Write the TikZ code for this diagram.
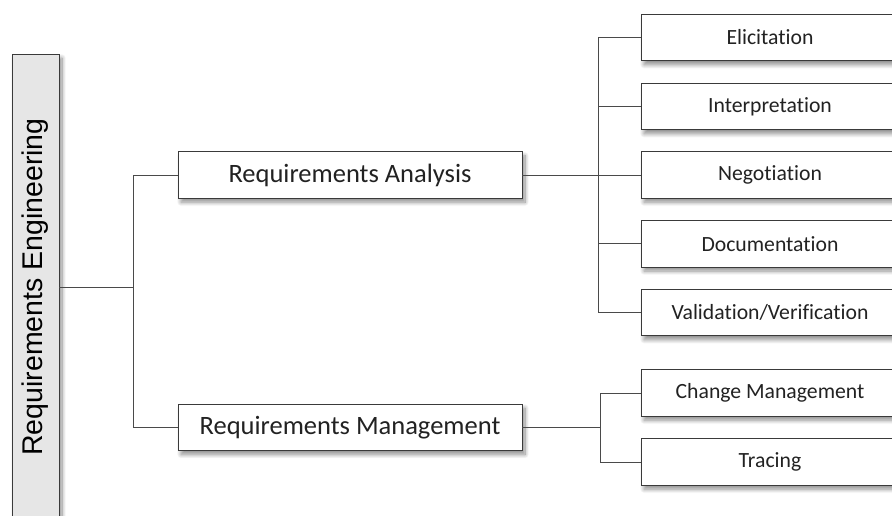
\documentclass[tikz,border=0pt]{standalone}
\usepackage{fontspec}
\setmainfont{Carlito}[Ligatures=NoCommon]
\newfontfamily\lsans{Liberation Sans}
\usetikzlibrary{shadows.blur}
\definecolor{boxgray}{HTML}{E6E6E6}
\definecolor{edgecol}{HTML}{3A3A3A}
\definecolor{linecol}{HTML}{4A4A4A}
\definecolor{txtcol}{HTML}{222222}
\tikzset{
  shad/.style={blur shadow={shadow xshift=3pt, shadow yshift=-4pt, shadow blur steps=12, shadow blur radius=4pt, shadow opacity=45}},
  box/.style={draw=edgecol, line width=0.9pt, fill=white, inner sep=0pt, text=txtcol, shad},
  midbox/.style={box, minimum width=344pt, minimum height=46.5pt, font=\fontsize{26.5}{30}\selectfont},
  leafbox/.style={box, minimum width=258pt, minimum height=46.5pt, font=\fontsize{21.7}{25}\selectfont},
  conn/.style={draw=linecol, line width=0.9pt},
}
\begin{document}
\begin{tikzpicture}[x=1pt, y=-1pt]
\useasboundingbox (0,0) rectangle (892,516);
\clip (0,0) rectangle (892,516);
% root
\node[box, fill=boxgray, minimum width=47pt, minimum height=466pt] (re) at (35.5,287) {};
\node[rotate=90, inner sep=0pt, text=black, font=\lsans\fontsize{28.5}{32}\selectfont] (retext) at (re.center) {Requirements Engineering};
% second level
\node[midbox] (ra) at (350,175) {Requirements Analysis};
\node[midbox] (rm) at (350,427.3) {Requirements Management};
% leaves
\node[leafbox] (eli) at (770,37.5) {Elicitation};
\node[leafbox] (int) at (770,106.5) {Interpretation};
\node[leafbox] (neg) at (770,175) {Negotiation};
\node[leafbox] (doc) at (770,243.8) {Documentation};
\node[leafbox] (val) at (770,312.5) {Validation/Verification};
\node[leafbox] (cm) at (770,393) {Change Management};
\node[leafbox] (tr) at (770,462) {Tracing};
% junctions
\coordinate (j1) at (133,287);
\coordinate (j2) at (598,175);
\coordinate (j3) at (600,427.3);
% connectors
\draw[conn] (re.east |- j1) -- (j1);
\draw[conn] (ra.west) -| (j1);
\draw[conn] (rm.west) -| (j1);
\draw[conn] (ra.east) -- (neg.west);
\draw[conn] (eli.west) -| (j2);
\draw[conn] (int.west) -| (j2);
\draw[conn] (doc.west) -| (j2);
\draw[conn] (val.west) -| (j2);
\draw[conn] (rm.east) -- (j3);
\draw[conn] (cm.west) -| (j3);
\draw[conn] (tr.west) -| (j3);
\end{tikzpicture}
\end{document}
